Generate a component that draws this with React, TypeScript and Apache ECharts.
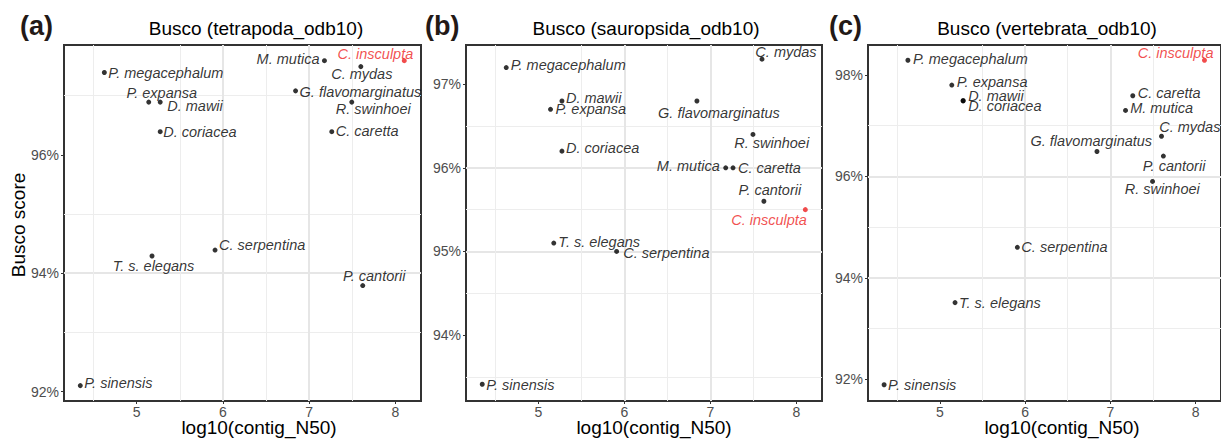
import React, { useEffect, useRef } from "react";
import * as echarts from "echarts";

// ---------- data ----------
const species = [
  "P. megacephalum", "P. expansa", "D. mawii", "D. coriacea", "M. mutica",
  "C. insculpta", "C. mydas", "G. flavomarginatus", "R. swinhoei", "C. caretta",
  "C. serpentina", "T. s. elegans", "P. cantorii", "P. sinensis",
];
const log10ContigN50 = [4.625, 5.14, 5.273, 5.273, 7.178, 8.104, 7.6, 6.843, 7.495, 7.263, 5.909, 5.178, 7.622, 4.346];
const buscoTetrapoda = [97.39, 96.89, 96.89, 96.39, 97.59, 97.59, 97.49, 97.08, 96.89, 96.39, 94.39, 94.29, 93.79, 92.1];
const buscoSauropsida = [97.2, 96.7, 96.8, 96.2, 96.0, 95.5, 97.3, 96.8, 96.4, 96.0, 95.0, 95.1, 95.6, 93.41];
const buscoVertebrata = [98.29, 97.8, 97.49, 97.49, 97.3, 98.29, 96.79, 96.49, 95.9, 97.59, 94.6, 93.51, 96.4, 91.89];
const highlighted = "C. insculpta";

const xTicks = [5, 6, 7, 8];
const yTicksA = [92, 94, 96];
const yTicksB = [94, 95, 96, 97];
const yTicksC = [92, 94, 96, 98];

const panelTitles = ["Busco (tetrapoda_odb10)", "Busco (sauropsida_odb10)", "Busco (vertebrata_odb10)"];
const panelLetters = ["(a)", "(b)", "(c)"];
const xName = "log10(contig_N50)";
const yName = "Busco score";

// ---------- layout / style (not data) ----------
const FONT = "'Liberation Sans', Arial, Helvetica, sans-serif";
const X_RANGE = [4.157, 8.298];
const panels = [
  { left: 64, width: 357, yMin: 91.84, yMax: 97.855, yStep: 2, yTicks: yTicksA, values: buscoTetrapoda, titleX: 256, xNameX: 259, letterX: 20 },
  { left: 466, width: 356, yMin: 93.21, yMax: 97.47, yStep: 1, yTicks: yTicksB, values: buscoSauropsida, titleX: 646, xNameX: 654, letterX: 425 },
  { left: 868, width: 356, yMin: 91.57, yMax: 98.59, yStep: 2, yTicks: yTicksC, values: buscoVertebrata, titleX: 1047, xNameX: 1062, letterX: 829 },
];
const GRID_TOP = 45;
const GRID_H = 356;

// label offsets relative to point: [dx, dy, align]
type Off = [number, number, string];
const labelOffsets: Record<string, Off>[] = [
  {
    "P. megacephalum": [4, 0, "left"],
    "P. expansa": [13, -9, "center"],
    "D. mawii": [7, 4, "left"],
    "D. coriacea": [3, 0, "left"],
    "M. mutica": [-5, -1.5, "right"],
    "C. insculpta": [9, -7, "right"],
    "C. mydas": [1, 7, "center"],
    "G. flavomarginatus": [4, 1.5, "left"],
    "R. swinhoei": [-16, 7, "left"],
    "C. caretta": [4, -0.5, "left"],
    "C. serpentina": [4, -5, "left"],
    "T. s. elegans": [1.5, 10.5, "center"],
    "P. cantorii": [11.5, -9.5, "center"],
    "P. sinensis": [4, -2.5, "left"],
  },
  {
    "P. megacephalum": [4.5, -3, "left"],
    "D. mawii": [4, -2.7, "left"],
    "P. expansa": [5, 0, "left"],
    "D. coriacea": [4, -3, "left"],
    "C. mydas": [24, -7, "center"],
    "G. flavomarginatus": [22, 12, "center"],
    "R. swinhoei": [18.7, 8.3, "center"],
    "M. mutica": [-6, -2, "right"],
    "C. caretta": [5, 0, "left"],
    "P. cantorii": [6, -11, "center"],
    "C. insculpta": [1.6, 10.3, "right"],
    "T. s. elegans": [4.6, -1, "left"],
    "C. serpentina": [6.6, 2, "left"],
    "P. sinensis": [4, 0.7, "left"],
  },
  {
    "P. megacephalum": [5, -1, "left"],
    "C. insculpta": [9, -7.6, "right"],
    "P. expansa": [5, -3, "left"],
    "D. mawii": [5, -5, "left"],
    "D. coriacea": [5, 5.3, "left"],
    "C. caretta": [5, -2.4, "left"],
    "M. mutica": [4.7, -2, "left"],
    "C. mydas": [-2.3, -9, "left"],
    "G. flavomarginatus": [-5.7, -10, "center"],
    "P. cantorii": [10.7, 9.7, "center"],
    "R. swinhoei": [9.7, 8, "center"],
    "C. serpentina": [4, 0, "left"],
    "T. s. elegans": [4, 0, "left"],
    "P. sinensis": [4, 0, "left"],
  },
];

const RED = "#EE1F1F";
const SYM = 5;
const GRID_COLOR = "#E6E6E6";

export default function App() {
  const ref = useRef<HTMLDivElement>(null);
  useEffect(() => {
    if (!ref.current) return;
    const chart = echarts.init(ref.current, null, { renderer: "svg" });

    const grids = panels.map((p) => ({
      left: p.left, top: GRID_TOP, width: p.width, height: GRID_H,
      show: true, borderColor: "#333333", borderWidth: 2, backgroundColor: "transparent",
      containLabel: false,
    }));

    const xAxes = panels.map((p, i) => ({
      type: "value", gridIndex: i, min: X_RANGE[0], max: X_RANGE[1],
      splitNumber: 4, minInterval: 1, maxInterval: 1,
      axisLine: { show: false },
      axisTick: { show: true, length: 3, lineStyle: { color: "#333333", width: 1 }, customValues: xTicks },
      axisLabel: { color: "#4D4D4D", fontSize: 14, fontFamily: FONT, margin: 4, lineHeight: 14, customValues: xTicks },
      splitLine: { show: true, showMinLine: false, showMaxLine: false, lineStyle: { color: GRID_COLOR, width: 2 } },
      minorTick: { show: false, splitNumber: 2 },
      minorSplitLine: { show: true, lineStyle: { color: "#EDEDED", width: 1 } },
    }));

    const yAxes = panels.map((p, i) => ({
      type: "value", gridIndex: i, min: p.yMin, max: p.yMax,
      splitNumber: 4, minInterval: p.yStep, maxInterval: p.yStep,
      axisLine: { show: false },
      axisTick: { show: true, length: 3, lineStyle: { color: "#333333", width: 1 }, customValues: p.yTicks },
      axisLabel: { color: "#4D4D4D", fontSize: 14, fontFamily: FONT, margin: 5, customValues: p.yTicks, formatter: "{value}%" },
      splitLine: { show: true, showMinLine: false, showMaxLine: false, lineStyle: { color: GRID_COLOR, width: 2 } },
      minorTick: { show: false, splitNumber: 2 },
      minorSplitLine: { show: true, lineStyle: { color: "#EDEDED", width: 1 } },
    }));

    const series = panels.map((p, i) => ({
      type: "scatter", xAxisIndex: i, yAxisIndex: i, symbol: "circle", symbolSize: SYM,
      clip: false,
      data: species.map((name, k) => {
        const off = labelOffsets[i][name] || [4, 0, "left"];
        const isHi = name === highlighted;
        return {
          name,
          value: [log10ContigN50[k], p.values[k]],
          itemStyle: { color: isHi ? RED : "#000000" },
          label: {
            show: true,
            formatter: name,
            position: [SYM / 2 + off[0], SYM / 2 + off[1]],
            align: off[2],
            verticalAlign: "middle",
            color: isHi ? RED : "#000000",
            fontSize: 14.5,
            fontStyle: "italic",
            fontFamily: FONT,
          },
        };
      }),
    }));

    const graphics: any[] = [];
    panels.forEach((p, i) => {
      graphics.push({
        type: "text", x: p.titleX, y: 28,
        style: { text: panelTitles[i], fill: "#000", font: `19px ${FONT}`, align: "center", verticalAlign: "middle" },
      });
      graphics.push({
        type: "text", x: p.xNameX, y: 427.5,
        style: { text: xName, fill: "#000", font: `19px ${FONT}`, align: "center", verticalAlign: "middle" },
      });
      graphics.push({
        type: "text", x: p.letterX, y: 26,
        style: { text: panelLetters[i], fill: "#231916", font: `bold 27px ${FONT}`, align: "left", verticalAlign: "middle" },
      });
    });
    graphics.push({
      type: "text", x: 18.5, y: 225, rotation: Math.PI / 2,
      style: { text: yName, fill: "#000", font: `19px ${FONT}`, align: "center", verticalAlign: "middle" },
    });

    chart.setOption({
      animation: false,
      backgroundColor: "#ffffff",
      grid: grids,
      xAxis: xAxes,
      yAxis: yAxes,
      series,
      graphic: graphics,
    });
    return () => chart.dispose();
  }, []);
  return <div ref={ref} style={{ position: "absolute", left: 0, top: 0, width: 1221, height: 439 }} />;
}
